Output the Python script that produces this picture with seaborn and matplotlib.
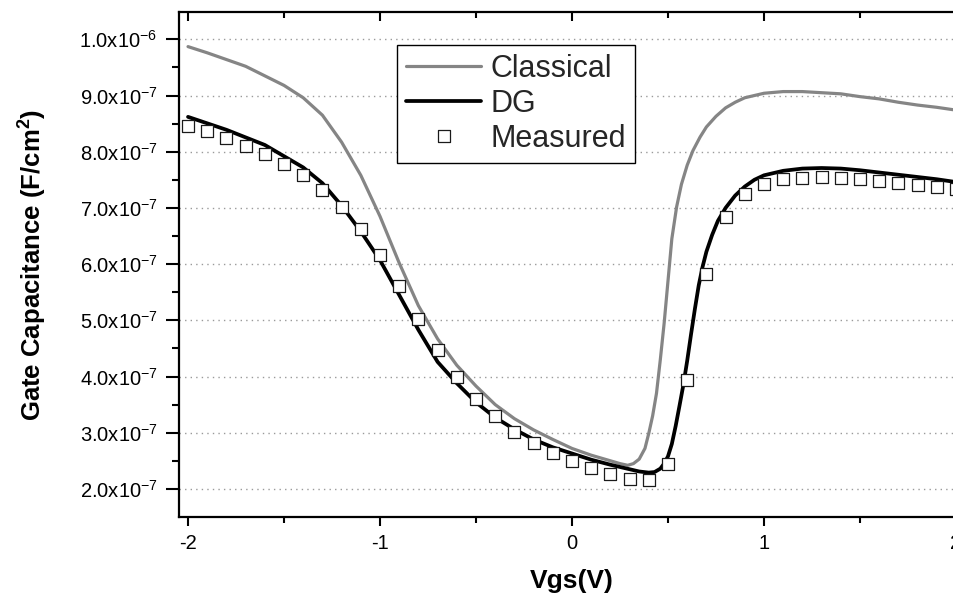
import matplotlib
matplotlib.use("Agg")
import matplotlib.pyplot as plt
import seaborn as sns
import pandas as pd
from matplotlib.ticker import FixedLocator

# ---------------- data ----------------
vgs_measured = [-2.0, -1.9, -1.8, -1.7, -1.6, -1.5, -1.4, -1.3, -1.2, -1.1,
                -1.0, -0.9, -0.8, -0.7, -0.6, -0.5, -0.4, -0.3, -0.2, -0.1,
                0.0, 0.1, 0.2, 0.3, 0.4, 0.5, 0.6, 0.7, 0.8, 0.9,
                1.0, 1.1, 1.2, 1.3, 1.4, 1.5, 1.6, 1.7, 1.8, 1.9, 2.0]
cap_measured = [8.46e-7, 8.37e-7, 8.25e-7, 8.10e-7, 7.96e-7, 7.78e-7, 7.58e-7, 7.32e-7, 7.01e-7, 6.62e-7,
                6.16e-7, 5.61e-7, 5.02e-7, 4.47e-7, 4.00e-7, 3.60e-7, 3.29e-7, 3.01e-7, 2.81e-7, 2.64e-7,
                2.50e-7, 2.37e-7, 2.27e-7, 2.18e-7, 2.16e-7, 2.44e-7, 3.93e-7, 5.83e-7, 6.83e-7, 7.24e-7,
                7.42e-7, 7.51e-7, 7.54e-7, 7.55e-7, 7.53e-7, 7.51e-7, 7.47e-7, 7.44e-7, 7.41e-7, 7.37e-7, 7.33e-7]

vgs_dg = [-2.0, -1.8, -1.6, -1.4, -1.3, -1.2, -1.1, -1.0, -0.9, -0.8, -0.7, -0.6, -0.5,
          -0.4, -0.3, -0.2, -0.1, 0.0, 0.1, 0.2, 0.3, 0.35, 0.4, 0.43, 0.46, 0.48,
          0.50, 0.52, 0.54, 0.56, 0.58, 0.60, 0.62, 0.64, 0.66, 0.68, 0.70, 0.73, 0.76,
          0.80, 0.85, 0.90, 0.95, 1.0, 1.1, 1.2, 1.3, 1.4, 1.5, 1.6, 1.7, 1.8, 1.9, 2.0]
cap_dg = [8.62e-7, 8.39e-7, 8.12e-7, 7.72e-7, 7.44e-7, 7.04e-7, 6.58e-7, 6.07e-7, 5.45e-7, 4.83e-7, 4.26e-7, 3.88e-7, 3.54e-7,
          3.27e-7, 3.06e-7, 2.88e-7, 2.74e-7, 2.63e-7, 2.52e-7, 2.43e-7, 2.35e-7, 2.31e-7, 2.29e-7, 2.30e-7, 2.36e-7, 2.45e-7,
          2.58e-7, 2.80e-7, 3.12e-7, 3.48e-7, 3.85e-7, 4.28e-7, 4.75e-7, 5.20e-7, 5.62e-7, 5.95e-7, 6.22e-7, 6.52e-7, 6.77e-7,
          7.00e-7, 7.22e-7, 7.38e-7, 7.50e-7, 7.58e-7, 7.66e-7, 7.70e-7, 7.71e-7, 7.70e-7, 7.67e-7, 7.63e-7, 7.59e-7, 7.55e-7, 7.51e-7, 7.46e-7]

vgs_classical = [-2.0, -1.9, -1.8, -1.7, -1.6, -1.5, -1.4, -1.3, -1.2, -1.1, -1.0, -0.9, -0.8, -0.7,
                 -0.6, -0.5, -0.4, -0.3, -0.2, -0.1, 0.0, 0.1, 0.2, 0.25, 0.29, 0.32, 0.35, 0.38,
                 0.40, 0.42, 0.44, 0.46, 0.48, 0.50, 0.52, 0.545, 0.57, 0.60, 0.63, 0.667, 0.70,
                 0.75, 0.80, 0.85, 0.90, 1.0, 1.1, 1.2, 1.3, 1.4, 1.5, 1.6, 1.7, 1.8, 1.9, 2.0]
cap_classical = [9.87e-7, 9.76e-7, 9.64e-7, 9.52e-7, 9.35e-7, 9.18e-7, 8.96e-7, 8.65e-7, 8.17e-7, 7.58e-7, 6.85e-7, 6.02e-7, 5.26e-7, 4.67e-7,
                 4.20e-7, 3.83e-7, 3.50e-7, 3.25e-7, 3.05e-7, 2.88e-7, 2.72e-7, 2.60e-7, 2.50e-7, 2.45e-7, 2.42e-7, 2.45e-7, 2.53e-7, 2.72e-7,
                 2.99e-7, 3.30e-7, 3.70e-7, 4.30e-7, 4.95e-7, 5.70e-7, 6.45e-7, 7.02e-7, 7.42e-7, 7.76e-7, 8.02e-7, 8.26e-7, 8.44e-7,
                 8.63e-7, 8.78e-7, 8.88e-7, 8.96e-7, 9.04e-7, 9.07e-7, 9.07e-7, 9.05e-7, 9.03e-7, 8.98e-7, 8.94e-7, 8.88e-7, 8.83e-7, 8.79e-7, 8.74e-7]

x_ticks = [-2, -1, 0, 1, 2]
x_tick_labels = ["-2", "-1", "0", "1", "2"]
x_minor_ticks = [-1.5, -0.5, 0.5, 1.5]
y_ticks = [2e-7, 3e-7, 4e-7, 5e-7, 6e-7, 7e-7, 8e-7, 9e-7, 1e-6]
y_tick_labels = [r"2.0x10$^{-7}$", r"3.0x10$^{-7}$", r"4.0x10$^{-7}$", r"5.0x10$^{-7}$",
                 r"6.0x10$^{-7}$", r"7.0x10$^{-7}$", r"8.0x10$^{-7}$", r"9.0x10$^{-7}$",
                 r"1.0x10$^{-6}$"]
y_minor_ticks = [2.5e-7, 3.5e-7, 4.5e-7, 5.5e-7, 6.5e-7, 7.5e-7, 8.5e-7, 9.5e-7]

# ---------------- style ----------------
sns.set_theme(style="ticks")
plt.rcParams["font.family"] = ["Liberation Sans", "DejaVu Sans"]
plt.rcParams["mathtext.fontset"] = "custom"
plt.rcParams["mathtext.rm"] = "Liberation Sans"
plt.rcParams["mathtext.it"] = "Liberation Sans:italic"
plt.rcParams["mathtext.bf"] = "Liberation Sans:bold"
plt.rcParams["mathtext.default"] = "regular"
plt.rcParams["axes.unicode_minus"] = False

fig = plt.figure(figsize=(9.54, 5.98), dpi=100)
ax = fig.add_axes([179 / 954, 81 / 598, 786 / 954, 505 / 598])

df_c = pd.DataFrame({"Vgs": vgs_classical, "C": cap_classical})
df_d = pd.DataFrame({"Vgs": vgs_dg, "C": cap_dg})
df_m = pd.DataFrame({"Vgs": vgs_measured, "C": cap_measured})

sns.lineplot(data=df_c, x="Vgs", y="C", color="#858585", linewidth=2.3,
             label="Classical", ax=ax, zorder=3)
sns.lineplot(data=df_d, x="Vgs", y="C", color="black", linewidth=2.7,
             label="DG", ax=ax, zorder=4)
sns.scatterplot(data=df_m, x="Vgs", y="C", marker="s", s=85, color="white",
                edgecolor="#1a1a1a", linewidth=0.9, label="Measured", ax=ax, zorder=5)

ax.set_xlim(-2.047, 2.047)
ax.set_ylim(1.5e-7, 1.0486e-6)

ax.xaxis.set_major_locator(FixedLocator(x_ticks))
ax.set_xticklabels(x_tick_labels)
ax.xaxis.set_minor_locator(FixedLocator(x_minor_ticks))
ax.yaxis.set_major_locator(FixedLocator(y_ticks))
ax.set_yticklabels(y_tick_labels)
ax.yaxis.set_minor_locator(FixedLocator(y_minor_ticks))

for side in ["left", "bottom", "top", "right"]:
    ax.spines[side].set_visible(True)
    ax.spines[side].set_linewidth(1.6)
    ax.spines[side].set_color("black")

ax.tick_params(axis="x", which="both", bottom=True, top=True, direction="out",
               labelsize=14.5, colors="black", width=1.5)
ax.tick_params(axis="x", which="major", length=6.5, pad=6)
ax.tick_params(axis="x", which="minor", length=4)
# top ticks point inward
for t in ax.xaxis.get_major_ticks() + ax.xaxis.get_minor_ticks():
    t.tick2line.set_marker(3)  # TICKDOWN
ax.tick_params(axis="y", which="both", left=True, right=False, direction="out",
               labelsize=14.5, colors="black", width=1.5)
ax.tick_params(axis="y", which="major", length=9.5, pad=6)
ax.tick_params(axis="y", which="minor", length=5)

ax.grid(axis="y", which="major", linestyle=(0, (1, 3)), color="#9a9a9a", linewidth=1.0)
ax.grid(axis="x", visible=False)

ax.set_xlabel("Vgs(V)", fontsize=19, fontweight="bold", color="black")
ax.set_ylabel(r"Gate Capacitance (F/cm$^{\mathbf{2}}$)", fontsize=18.5,
              fontweight="bold", color="black")
ax.xaxis.set_label_coords(0.5, -0.103)
ax.yaxis.set_label_coords(-0.165, 0.5)

leg = ax.legend(loc="upper left", bbox_to_anchor=(397 / 954, 1 - 45 / 598),
                bbox_transform=fig.transFigure, borderaxespad=0, fontsize=22,
                frameon=True, fancybox=False, shadow=False, framealpha=1,
                edgecolor="black", handlelength=2.45, handletextpad=0.3,
                labelspacing=0.16, borderpad=0.3, scatteryoffsets=[0.5])
leg.get_frame().set_linewidth(1.0)

fig.savefig("out.png", dpi=100)
